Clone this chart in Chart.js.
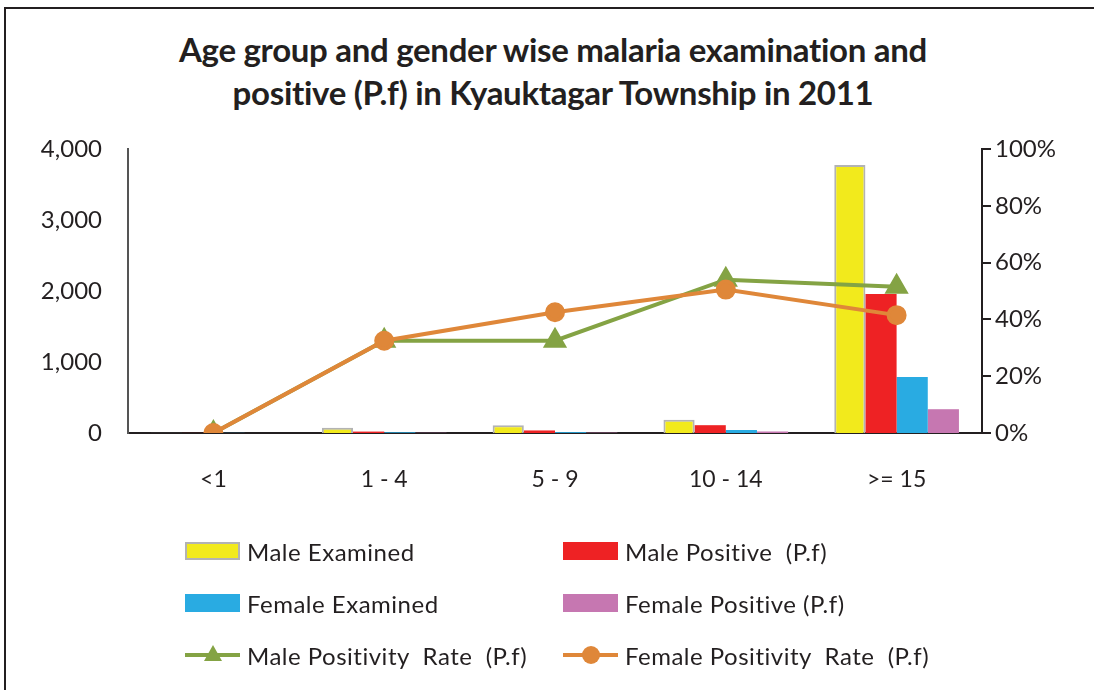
<!DOCTYPE html>
<html>
<head>
<meta charset="utf-8">
<script src="https://cdn.jsdelivr.net/npm/chart.js@4"></script>
<style>
  html, body { margin: 0; padding: 0; background: #fff; }
  body { width: 1094px; height: 690px; position: relative; overflow: hidden; font-family: Lato, "Open Sans", sans-serif; }
  #frame { position: absolute; left: 4px; top: 7px; width: 1090px; height: 683px; border-top: 2px solid #231f20; border-left: 2px solid #231f20; box-sizing: border-box; }
  #title { position: absolute; left: 0; width: 1106px; top: 28px; text-align: center; font-weight: bold; font-size: 33px; line-height: 43px; letter-spacing: -0.3px; color: #231f20; }
  #wrap { position: absolute; left: 0; top: 0; width: 1094px; height: 690px; }
  #legend { position: absolute; left: 185px; top: 536px; width: 800px; }
  .item { position: absolute; height: 30px; display: flex; align-items: center; font-size: 24px; letter-spacing: 0.5px; color: #231f20; white-space: pre; }
  .swatch { width: 55px; height: 18px; margin-right: 7px; box-sizing: border-box; position: relative; flex: none; }
</style>
</head>
<body>
<div id="frame"></div>
<div id="title">Age group and gender wise malaria examination and<br>positive (P.f) in Kyauktagar Township in 2011</div>
<div id="wrap"><canvas id="chart" width="1094" height="690"></canvas></div>
<div id="legend"></div>
<script>
// Age groups and series
const ageGroups = ['<1', '1 - 4', '5 - 9', '10 - 14', '>= 15'];
const maleExamined = [3, 75, 110, 185, 3775];
const malePositive = [1, 20, 36, 110, 1958];
const femaleExamined = [2, 10, 12, 42, 790];
const femalePositive = [0, 3, 5, 22, 335];
const maleRate = [0, 32.5, 32.5, 54, 51.5];
const femaleRate = [0, 32.5, 42.5, 50.5, 41.5];
const leftTicks = [0, 1000, 2000, 3000, 4000];
const rightTicks = [0, 20, 40, 60, 80, 100];

const COLORS = {
  yellow: '#f2ea1c',
  yellowBorder: '#b3b3b3',
  red: '#ee2224',
  blue: '#29abe2',
  purple: '#c677b1',
  green: '#84a344',
  orange: '#df8739',
  text: '#231f20',
};
const FONT = "Lato, 'Open Sans', sans-serif";

const barBase = { yAxisID: 'y', barPercentage: 1.0, categoryPercentage: 0.73 };

const chart = new Chart(document.getElementById('chart'), {
  type: 'bar',
  data: {
    labels: ageGroups,
    datasets: [
      { ...barBase, label: 'Male Examined', data: maleExamined, backgroundColor: COLORS.yellow, borderColor: COLORS.yellowBorder, borderWidth: 2, order: 2 },
      { ...barBase, label: 'Male Positive  (P.f)', data: malePositive, backgroundColor: COLORS.red, order: 3 },
      { ...barBase, label: 'Female Examined', data: femaleExamined, backgroundColor: COLORS.blue, order: 4 },
      { ...barBase, label: 'Female Positive (P.f)', data: femalePositive, backgroundColor: COLORS.purple, order: 5 },
      {
        type: 'line', label: 'Male Positivity  Rate  (P.f)', data: maleRate, yAxisID: 'y1',
        borderColor: COLORS.green, backgroundColor: COLORS.green, borderWidth: 4,
        pointStyle: 'triangle', pointRadius: 10, pointHoverRadius: 10, order: 1,
      },
      {
        type: 'line', label: 'Female Positivity  Rate  (P.f)', data: femaleRate, yAxisID: 'y1',
        borderColor: COLORS.orange, backgroundColor: COLORS.orange, borderWidth: 4,
        pointStyle: 'circle', pointRadius: 8, pointHoverRadius: 8, order: 0,
      },
    ],
  },
  options: {
    responsive: false,
    animation: false,
    layout: { padding: { top: 149, left: 0, right: 0, bottom: 0 } },
    plugins: {
      legend: { display: false },
      tooltip: { enabled: false },
    },
    scales: {
      x: {
        grid: { display: false },
        border: { color: COLORS.text, width: 2 },
        ticks: { color: COLORS.text, font: { family: FONT, size: 23 }, padding: 25 },
        afterFit: s => { s.height = 690 - 433; },
      },
      y: {
        position: 'left',
        min: 0, max: 4000,
        afterBuildTicks: s => { s.ticks = leftTicks.map(v => ({ value: v })); },
        grid: { display: false },
        border: { color: '#555', width: 2 },
        ticks: {
          color: COLORS.text, font: { family: FONT, size: 24 }, padding: 18,
          callback: v => v.toLocaleString('en-US'),
        },
        afterFit: s => { s.width = 128; },
      },
      y1: {
        position: 'right',
        min: 0, max: 100,
        afterBuildTicks: s => { s.ticks = rightTicks.map(v => ({ value: v })); },
        grid: { drawOnChartArea: false, drawTicks: true, tickLength: 9, color: COLORS.text, lineWidth: 2 },
        border: { color: COLORS.text, width: 2 },
        ticks: {
          color: COLORS.text, font: { family: FONT, size: 24 }, padding: 4,
          callback: v => v + '%',
        },
        afterFit: s => { s.width = 1094 - 982; },
      },
    },
  },
});

// HTML legend in two columns, built from the chart datasets
const legend = document.getElementById('legend');
const legendOrder = [0, 1, 2, 3, 4, 5];
legendOrder.forEach((idx, i) => {
  const ds = chart.data.datasets[idx];
  const item = document.createElement('div');
  item.className = 'item';
  item.style.left = (i % 2 === 0 ? 0 : 378) + 'px';
  item.style.top = (Math.floor(i / 2) * 52) + 'px';
  const sw = document.createElement('div');
  sw.className = 'swatch';
  if (ds.type === 'line') {
    const c = ds.borderColor;
    let marker;
    if (ds.pointStyle === 'triangle') {
      marker = `<div style="position:absolute;left:19px;top:-1px;width:0;height:0;border-left:9px solid transparent;border-right:9px solid transparent;border-bottom:16px solid ${c}"></div>`;
    } else {
      marker = `<div style="position:absolute;left:19px;top:0px;width:18px;height:18px;border-radius:50%;background:${c}"></div>`;
    }
    sw.innerHTML = `<div style="position:absolute;left:0;top:7px;width:55px;height:4px;background:${c}"></div>` + marker;
  } else {
    sw.style.background = ds.backgroundColor;
    if (ds.borderWidth) sw.style.border = `2px solid ${ds.borderColor}`;
  }
  item.appendChild(sw);
  item.appendChild(document.createTextNode(ds.label));
  legend.appendChild(item);
});
</script>
</body>
</html>
